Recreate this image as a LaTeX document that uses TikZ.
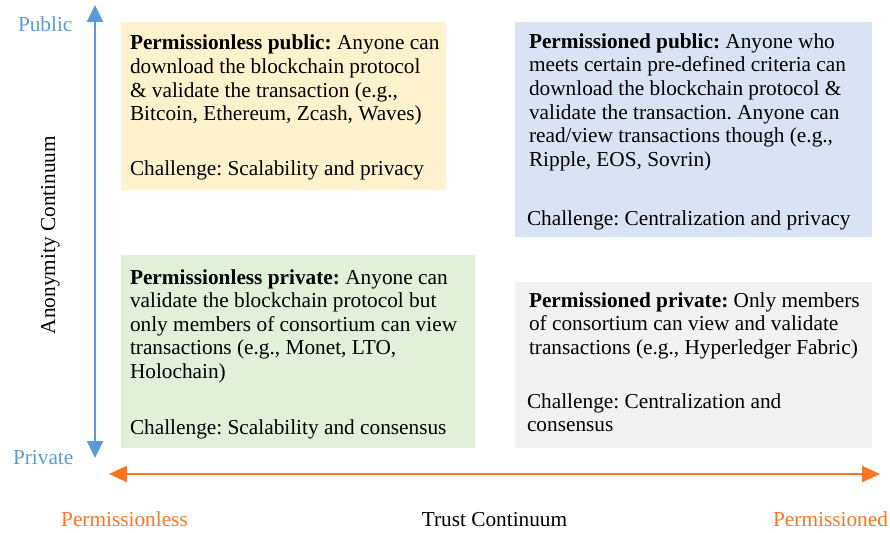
\documentclass[tikz,border=0pt]{standalone}
\usepackage{fontspec}
\setmainfont{Liberation Serif}
\usetikzlibrary{arrows.meta}
\definecolor{yelbox}{HTML}{FFF2CC}
\definecolor{bluebox}{HTML}{DAE3F3}
\definecolor{greenbox}{HTML}{E2F0D9}
\definecolor{graybox}{HTML}{F2F2F2}
\definecolor{axblue}{HTML}{5B9BD5}
\definecolor{axorange}{HTML}{FF7420}
\newcommand{\mylines}[1]{\begin{tabular}[t]{@{}l@{}}#1\end{tabular}}
\begin{document}
\begin{tikzpicture}[x=1pt,y=-1pt,
  every node/.style={inner sep=0pt, outer sep=0pt, font=\fontsize{21.3}{23.6}\selectfont\frenchspacing},
  quad/.style={draw=none, anchor=north west},
  boxtext/.style={anchor=base west},
  bluelabel/.style={text=axblue},
  orangelabel/.style={text=axorange, anchor=base},
  blueaxis/.style={draw=axblue, line width=2.4pt, {Triangle[length=17pt,width=16pt]}-{Triangle[length=17pt,width=16pt]}},
  orangeaxis/.style={draw=axorange, line width=2.6pt, {Triangle[length=18pt,width=16pt]}-{Triangle[length=18pt,width=16pt]}}
]
\useasboundingbox (0,0) rectangle (890,532);

% quadrant boxes
\node[quad, fill=yelbox, minimum width=325pt, minimum height=168pt] (q1) at (121,22) {};
\node[quad, fill=bluebox, minimum width=357pt, minimum height=215pt] (q2) at (515,22) {};
\node[quad, fill=greenbox, minimum width=354pt, minimum height=193pt] (q3) at (121,255) {};
\node[quad, fill=graybox, minimum width=357pt, minimum height=166pt] (q4) at (515,282) {};

% texts
\node[boxtext] (t1) at (130,50) {\mylines{\textbf{Permissionless public:} Anyone can\\
download the blockchain protocol\\
\& validate the transaction (e.g.,\\
Bitcoin, Ethereum, Zcash, Waves)}};
\node[boxtext] (c1) at (130,175) {Challenge: Scalability and privacy};

\node[boxtext] (t2) at (529,48.3) {\mylines{\textbf{Permissioned public:} Anyone who\\
meets certain pre-defined criteria can\\
download the blockchain protocol \&\\
validate the transaction. Anyone can\\
read/view transactions though (e.g.,\\
Ripple, EOS, Sovrin)}};
\node[boxtext] (c2) at (527,225) {Challenge: Centralization and privacy};

\node[boxtext] (t3) at (130,284) {\mylines{\textbf{Permissionless private:} Anyone can\\
validate the blockchain protocol but\\
only members of consortium can view\\
transactions (e.g., Monet, LTO,\\
Holochain)}};
\node[boxtext] (c3) at (130,434) {Challenge: Scalability and consensus};

\node[boxtext] (t4) at (529,307.3) {\mylines{\textbf{Permissioned private:} Only members\\
of consortium can view and validate\\
transactions (e.g., Hyperledger Fabric)}};
\node[boxtext] (c4) at (527,408.3) {\mylines{Challenge: Centralization and\\
consensus}};

% axes
\coordinate (vtop) at (95,5);
\coordinate (vbot) at (95,458);
\draw[blueaxis] (vtop) -- (vbot);
\coordinate (hleft) at (109,474);
\coordinate (hright) at (880,474);
\draw[orangeaxis] (hleft) -- (hright);

% axis labels
\node[bluelabel, anchor=base west] (pub) at (18,32) {Public};
\node[bluelabel, anchor=base west] (priv) at (13,464) {Private};
\node[anchor=base, rotate=90] (anon) at (55,235) {Anonymity Continuum};
\node[orangelabel] (pless) at (124.5,526) {Permissionless};
\node[anchor=base] (trust) at (494.5,526) {Trust Continuum};
\node[orangelabel] (pned) at (830.5,526) {Permissioned};
\end{tikzpicture}
\end{document}
